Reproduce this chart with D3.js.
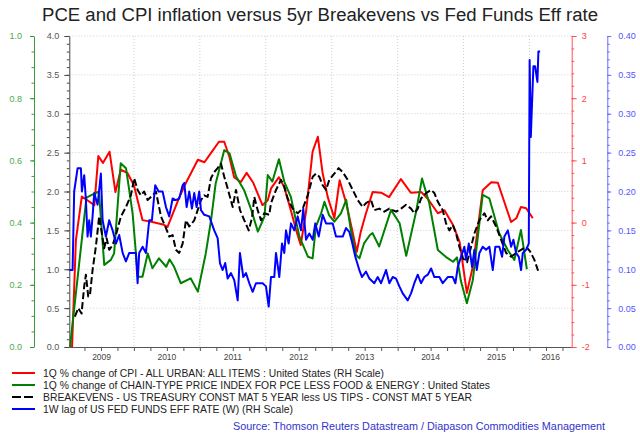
<!DOCTYPE html>
<html><head><meta charset="utf-8">
<script src="https://cdn.jsdelivr.net/npm/d3@7"></script>
<style>body{margin:0;background:#fff}svg{display:block}text{font-family:"Liberation Sans",Arial,sans-serif}</style>
</head><body><svg id="c" width="640" height="433"></svg>
<script>
// ---------- DATA (fractional year, value) ----------
const titleText = "PCE and CPI inflation versus 5yr Breakevens vs Fed Funds Eff rate";
const years = [2009, 2010, 2011, 2012, 2013, 2014, 2015, 2016];
const xDomain = [2009.02, 2016.64];
const blackTicks = [0, 0.5, 1, 1.5, 2, 2.5, 3, 3.5, 4];
const greenTicks = [0, 0.2, 0.4, 0.6, 0.8, 1.0];
const redTicks = [-2, -1, 0, 1, 2, 3];
const blueTicks = [0, 0.05, 0.10, 0.15, 0.20, 0.25, 0.30, 0.35, 0.40];
const legendLabels = [
  "1Q % change of CPI - ALL URBAN: ALL ITEMS : United States (RH Scale)",
  "1Q % change of CHAIN-TYPE PRICE INDEX FOR PCE LESS FOOD & ENERGY : United States",
  "BREAKEVENS - US TREASURY CONST MAT 5 YEAR less US TIPS - CONST MAT 5 YEAR",
  "1W lag of US FED FUNDS EFF RATE (W) (RH Scale)"
];
const sourceText = "Source: Thomson Reuters Datastream / Diapason Commodities Management";

const cpi = [[2009.06,-2.05],[2009.12,-0.28],[2009.21,0.42],[2009.40,0.28],[2009.46,1.07],[2009.53,0.96],[2009.63,1.14],[2009.72,0.49],[2009.80,0.85],[2009.90,0.80],[2010.00,0.60],[2010.13,0.04],[2010.28,0.01],[2010.44,-0.03],[2010.51,-0.07],[2010.69,0.41],[2010.79,0.64],[2010.97,1.01],[2011.07,0.97],[2011.17,1.12],[2011.29,1.30],[2011.37,1.30],[2011.45,1.05],[2011.52,0.73],[2011.62,0.65],[2011.71,0.80],[2011.81,0.64],[2011.95,0.28],[2012.03,0.36],[2012.08,0.55],[2012.20,0.73],[2012.28,0.57],[2012.38,0.20],[2012.46,-0.12],[2012.53,-0.36],[2012.61,0.17],[2012.71,1.14],[2012.79,1.38],[2012.86,0.81],[2012.94,0.41],[2013.04,0.07],[2013.12,0.68],[2013.22,0.31],[2013.31,-0.12],[2013.38,-0.47],[2013.44,-0.15],[2013.52,0.15],[2013.62,0.49],[2013.75,0.48],[2013.87,0.41],[2014.05,0.70],[2014.20,0.48],[2014.36,0.49],[2014.46,0.38],[2014.61,0.15],[2014.71,0.20],[2014.84,-0.04],[2014.94,-0.31],[2015.05,-1.13],[2015.14,-0.71],[2015.29,0.52],[2015.42,0.65],[2015.52,0.64],[2015.72,0.01],[2015.80,0.07],[2015.87,0.25],[2015.95,0.23],[2016.05,0.07]];

const pce = [[2009.03,0.0],[2009.28,0.48],[2009.37,0.49],[2009.47,0.50],[2009.55,0.264],[2009.65,0.280],[2009.70,0.301],[2009.80,0.591],[2009.88,0.575],[2009.98,0.430],[2010.06,0.226],[2010.13,0.226],[2010.21,0.301],[2010.28,0.253],[2010.38,0.285],[2010.49,0.258],[2010.54,0.282],[2010.61,0.258],[2010.71,0.205],[2010.86,0.221],[2010.97,0.178],[2011.09,0.301],[2011.17,0.408],[2011.24,0.526],[2011.37,0.633],[2011.45,0.623],[2011.55,0.548],[2011.67,0.505],[2011.78,0.441],[2011.88,0.371],[2011.98,0.419],[2012.03,0.553],[2012.10,0.532],[2012.20,0.604],[2012.28,0.532],[2012.38,0.483],[2012.51,0.355],[2012.64,0.290],[2012.71,0.285],[2012.76,0.387],[2012.84,0.430],[2012.89,0.467],[2012.96,0.424],[2013.04,0.403],[2013.14,0.430],[2013.22,0.473],[2013.29,0.376],[2013.37,0.296],[2013.42,0.285],[2013.49,0.333],[2013.58,0.360],[2013.62,0.366],[2013.72,0.323],[2013.90,0.441],[2014.03,0.398],[2014.13,0.293],[2014.28,0.435],[2014.37,0.542],[2014.48,0.462],[2014.61,0.312],[2014.73,0.290],[2014.84,0.274],[2014.90,0.288],[2014.96,0.212],[2015.05,0.141],[2015.14,0.215],[2015.29,0.489],[2015.39,0.478],[2015.54,0.366],[2015.67,0.312],[2015.77,0.280],[2015.87,0.376],[2015.96,0.250]];

const breakevens = [[2009.105,0.39],[2009.155,0.50],[2009.206,0.43],[2009.246,0.78],[2009.272,0.93],[2009.307,0.65],[2009.332,0.66],[2009.373,0.99],[2009.423,1.29],[2009.473,1.68],[2009.514,1.46],[2009.549,1.27],[2009.586,1.40],[2009.625,1.25],[2009.677,1.31],[2009.727,1.44],[2009.803,1.68],[2009.879,1.80],[2009.954,1.95],[2010.005,2.17],[2010.056,2.02],[2010.106,1.95],[2010.156,2.00],[2010.208,1.89],[2010.284,1.95],[2010.334,2.00],[2010.410,1.68],[2010.486,1.53],[2010.536,1.42],[2010.587,1.44],[2010.637,1.25],[2010.687,1.21],[2010.739,1.33],[2010.789,1.63],[2010.839,1.55],[2010.915,1.63],[2010.967,1.76],[2011.017,1.89],[2011.067,1.95],[2011.118,1.93],[2011.168,2.17],[2011.218,2.25],[2011.270,2.30],[2011.320,2.36],[2011.370,2.19],[2011.422,2.04],[2011.498,1.80],[2011.548,2.02],[2011.609,1.76],[2011.674,1.63],[2011.741,1.50],[2011.791,1.66],[2011.826,1.93],[2011.877,1.76],[2011.927,1.63],[2011.977,1.72],[2012.053,1.70],[2012.079,1.85],[2012.155,2.02],[2012.231,2.15],[2012.281,2.06],[2012.332,1.91],[2012.408,1.78],[2012.484,1.72],[2012.560,1.78],[2012.636,1.95],[2012.712,2.19],[2012.762,2.23],[2012.812,2.19],[2012.863,2.08],[2012.914,2.02],[2012.964,2.15],[2013.039,2.23],[2013.106,2.30],[2013.167,2.25],[2013.243,2.15],[2013.319,2.02],[2013.395,1.89],[2013.470,1.80],[2013.520,1.85],[2013.596,1.89],[2013.646,1.76],[2013.722,1.78],[2013.798,1.74],[2013.874,1.78],[2013.976,1.74],[2014.052,1.78],[2014.127,1.83],[2014.203,1.78],[2014.253,1.72],[2014.305,1.78],[2014.355,1.91],[2014.431,1.98],[2014.507,2.02],[2014.557,1.98],[2014.608,1.87],[2014.684,1.76],[2014.734,1.59],[2014.784,1.50],[2014.836,1.57],[2014.886,1.46],[2014.936,1.29],[2014.992,1.14],[2015.053,1.09],[2015.114,1.29],[2015.164,1.46],[2015.240,1.63],[2015.316,1.72],[2015.367,1.63],[2015.417,1.68],[2015.493,1.55],[2015.569,1.38],[2015.645,1.21],[2015.721,1.16],[2015.796,1.21],[2015.872,1.25],[2015.948,1.29],[2016.009,1.23],[2016.074,1.12],[2016.126,0.99],[2016.146,1.04]];

const fedFunds = [[2009.018,0.099],[2009.070,0.099],[2009.094,0.200],[2009.146,0.230],[2009.196,0.230],[2009.211,0.200],[2009.246,0.221],[2009.272,0.189],[2009.297,0.142],[2009.322,0.163],[2009.347,0.142],[2009.373,0.168],[2009.398,0.198],[2009.449,0.183],[2009.499,0.223],[2009.525,0.163],[2009.575,0.142],[2009.625,0.163],[2009.677,0.150],[2009.727,0.133],[2009.777,0.144],[2009.829,0.121],[2009.879,0.110],[2009.929,0.121],[2009.980,0.121],[2010.030,0.121],[2010.056,0.082],[2010.080,0.121],[2010.132,0.129],[2010.182,0.121],[2010.232,0.163],[2010.273,0.163],[2010.323,0.208],[2010.375,0.200],[2010.435,0.200],[2010.486,0.180],[2010.536,0.168],[2010.587,0.191],[2010.637,0.189],[2010.687,0.191],[2010.739,0.208],[2010.763,0.211],[2010.800,0.180],[2010.839,0.200],[2010.880,0.178],[2010.915,0.198],[2010.951,0.180],[2010.991,0.200],[2011.017,0.176],[2011.067,0.170],[2011.143,0.168],[2011.218,0.150],[2011.270,0.140],[2011.305,0.108],[2011.346,0.099],[2011.385,0.108],[2011.422,0.088],[2011.472,0.095],[2011.522,0.086],[2011.574,0.060],[2011.608,0.121],[2011.659,0.090],[2011.700,0.095],[2011.750,0.082],[2011.801,0.071],[2011.851,0.082],[2011.953,0.082],[2012.003,0.078],[2012.044,0.052],[2012.079,0.090],[2012.129,0.090],[2012.155,0.121],[2012.205,0.090],[2012.246,0.133],[2012.281,0.121],[2012.307,0.150],[2012.347,0.133],[2012.382,0.159],[2012.432,0.150],[2012.484,0.168],[2012.534,0.150],[2012.569,0.178],[2012.610,0.138],[2012.660,0.146],[2012.712,0.138],[2012.751,0.159],[2012.803,0.142],[2012.863,0.170],[2012.914,0.159],[2013.015,0.159],[2013.065,0.142],[2013.167,0.142],[2013.217,0.153],[2013.267,0.148],[2013.308,0.135],[2013.358,0.116],[2013.419,0.099],[2013.460,0.090],[2013.520,0.097],[2013.571,0.088],[2013.646,0.082],[2013.698,0.090],[2013.748,0.082],[2013.824,0.099],[2013.874,0.082],[2013.926,0.090],[2013.976,0.088],[2014.026,0.078],[2014.077,0.069],[2014.153,0.060],[2014.203,0.069],[2014.253,0.082],[2014.305,0.093],[2014.355,0.082],[2014.405,0.090],[2014.457,0.093],[2014.507,0.101],[2014.557,0.090],[2014.633,0.090],[2014.684,0.082],[2014.760,0.090],[2014.836,0.090],[2014.876,0.082],[2014.912,0.103],[2014.962,0.116],[2015.012,0.129],[2015.038,0.112],[2015.079,0.133],[2015.129,0.103],[2015.164,0.125],[2015.200,0.099],[2015.240,0.121],[2015.291,0.129],[2015.341,0.125],[2015.391,0.129],[2015.443,0.099],[2015.482,0.129],[2015.543,0.129],[2015.584,0.116],[2015.619,0.142],[2015.671,0.150],[2015.721,0.129],[2015.756,0.138],[2015.796,0.121],[2015.838,0.116],[2015.872,0.099],[2015.898,0.121],[2015.948,0.125],[2015.989,0.133],[2016.002,0.369],[2016.020,0.270],[2016.059,0.361],[2016.085,0.361],[2016.120,0.341],[2016.135,0.380],[2016.161,0.380]];

// ---------- LAYOUT ----------
const svg = d3.select('#c');
const L = 69.3, R = 571.7, T = 36, B = 347;
const x = d3.scaleLinear().domain(xDomain).range([L, R]);
const yB = d3.scaleLinear().domain([0, 4]).range([B, T]);
const yG = d3.scaleLinear().domain([0, 1]).range([B, T]);
const yR = d3.scaleLinear().domain([-2, 3]).range([B, T]);
const yU = d3.scaleLinear().domain([0, 0.4]).range([B, T]);

function fit(sel, w) { sel.attr('textLength', w).attr('lengthAdjust', 'spacingAndGlyphs'); return sel; }

// title
fit(svg.append('text').attr('x', 42).attr('y', 21).attr('font-size', 18).attr('fill', '#222').text(titleText), 556);

// grid
const grid = svg.append('g').attr('stroke', '#cfcfcf').attr('stroke-dasharray', '1,2').attr('stroke-width', 1);
grid.selectAll('.h').data(blackTicks.filter(d => d > 0)).join('line')
  .attr('x1', L).attr('x2', R).attr('y1', d => yB(d)).attr('y2', d => yB(d));
grid.selectAll('.v').data(years.filter(d => d > xDomain[0])).join('line')
  .attr('x1', d => x(d)).attr('x2', d => x(d)).attr('y1', T).attr('y2', B);

// x axis
const quarters = d3.range(2009.25, xDomain[1], 0.25);
const xa = svg.append('g').attr('transform', `translate(0,${B})`)
  .call(d3.axisBottom(x).tickValues(quarters).tickSize(4).tickSizeOuter(0).tickFormat(''));
xa.select('.domain').attr('stroke', '#555');
xa.selectAll('.tick line').attr('stroke', '#555');
svg.append('g').selectAll('text').data(years).join('text')
  .attr('x', d => x((Math.max(d, xDomain[0]) + Math.min(d + 1, xDomain[1])) / 2))
  .attr('y', 360).attr('text-anchor', 'middle').attr('font-size', 8.5).attr('fill', '#444')
  .text(d => d);

// generic axis helper
function axis(gen, tx, scale, major, minor, fmt, lineCol, textCol, tsz, pad) {
  const g1 = svg.append('g').attr('transform', `translate(${tx},0)`)
    .call(gen(scale).tickValues(minor).tickSize(2.5).tickSizeOuter(0).tickFormat(''));
  g1.select('.domain').remove();
  g1.selectAll('line').attr('stroke', lineCol);
  const g = svg.append('g').attr('transform', `translate(${tx},0)`)
    .call(gen(scale).tickValues(major).tickSize(tsz).tickSizeOuter(0).tickPadding(pad).tickFormat(fmt));
  g.select('.domain').attr('stroke', lineCol);
  g.selectAll('.tick line').attr('stroke', lineCol);
  g.selectAll('text').attr('fill', textCol).attr('font-size', 9)
    .attr('font-family', '"Liberation Sans",Arial,sans-serif');
}
axis(d3.axisLeft, 34, yG, greenTicks, d3.range(0, 1.0001, 0.05), d3.format('.1f'), '#3c9c3c', '#4caa4c', 4, 8);
axis(d3.axisLeft, L, yB, blackTicks, d3.range(0, 4.0001, 0.1), d3.format('.1f'), '#444', '#555', 5, 5);
axis(d3.axisRight, R, yR, redTicks, d3.range(-2, 3.0001, 0.2), d => String(d), '#ff5050', '#ff4040', 5, 5);
axis(d3.axisRight, 607.3, yU, blueTicks, d3.range(0, 0.4001, 0.01), d3.format('.2f'), '#6a6aff', '#5555ff', 4, 7);

// clip
svg.append('clipPath').attr('id', 'clip').append('rect').attr('x', L).attr('y', T).attr('width', R - L).attr('height', B - T);
const plot = svg.append('g').attr('clip-path', 'url(#clip)');
const series = [
  {data: cpi, y: yR, color: '#ff0000', dash: null},
  {data: pce, y: yG, color: '#008000', dash: null},
  {data: breakevens, y: yB, color: '#000000', dash: '7,3'},
  {data: fedFunds, y: yU, color: '#0000ff', dash: null}
];
series.forEach(s => {
  plot.append('path').datum(s.data)
    .attr('fill', 'none').attr('stroke', s.color).attr('stroke-width', 2)
    .attr('stroke-linejoin', 'round')
    .attr('stroke-dasharray', s.dash)
    .attr('d', d3.line().x(d => x(d[0])).y(d => s.y(d[1])));
});

// legend
const legY = [373, 385, 397, 409];
const legW = [341, 447, 429, 250];
series.forEach((s, i) => {
  svg.append('line').attr('x1', 12).attr('x2', 35).attr('y1', legY[i]).attr('y2', legY[i])
    .attr('stroke', s.color).attr('stroke-width', 2).attr('stroke-dasharray', s.dash ? '9,3' : null);
  fit(svg.append('text').attr('x', 43).attr('y', legY[i] + 4).attr('font-size', 11).attr('fill', '#222').text(legendLabels[i]), legW[i]);
});
fit(svg.append('text').attr('x', 233).attr('y', 430).attr('font-size', 11).attr('fill', '#3333cc').text(sourceText), 372);
</script></body></html>
